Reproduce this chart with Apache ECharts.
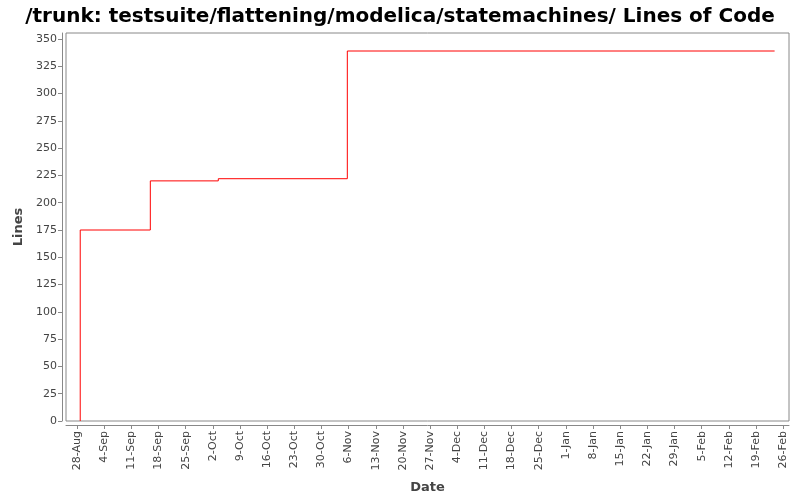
<!DOCTYPE html>
<html><head><meta charset="utf-8">
<script src="https://cdn.jsdelivr.net/npm/echarts@6/dist/echarts.min.js"></script>
<style>html,body{margin:0;padding:0;background:#fff}#c{width:800px;height:500px}</style>
</head><body><div id="c"></div>
<script>
const titleText = '/trunk: testsuite/flattening/modelica/statemachines/ Lines of Code';
const origin = '2017-08-28T00:00:00';
const stepDates = ['2017-08-28T20:00:00','2017-08-28T20:00:00','2017-09-15T21:30:00','2017-10-03T10:00:00','2017-11-05T16:00:00','2018-02-23T19:00:00'];
const lineCounts = [0,175,220,222,339,339];
const tickDays = [0,7,14,21,28,35,42,49,56,63,70,77,84,91,98,105,112,119,126,133,140,147,154,161,168,175,182];
const tickLabels = ['28-Aug','4-Sep','11-Sep','18-Sep','25-Sep','2-Oct','9-Oct','16-Oct','23-Oct','30-Oct','6-Nov','13-Nov','20-Nov','27-Nov','4-Dec','11-Dec','18-Dec','25-Dec','1-Jan','8-Jan','15-Jan','22-Jan','29-Jan','5-Feb','12-Feb','19-Feb','26-Feb'];
const yTicks = [0,25,50,75,100,125,150,175,200,225,250,275,300,325,350];

const t0 = Date.parse(origin);
const toDay = s => (Date.parse(s) - t0) / 86400000;
const data = stepDates.map((d, i) => [toDay(d), lineCounts[i]]);
const labelMap = {};
tickDays.forEach((d, i) => labelMap[d] = tickLabels[i]);

const font = 'DejaVu Sans';
const chart = echarts.init(document.getElementById('c'), null, {renderer: 'canvas'});
chart.setOption({
  animation: false,
  backgroundColor: '#fff',
  title: {text: titleText, left: 'center', top: 2,
    textStyle: {fontFamily: font, fontSize: 20, fontWeight: 'bold', color: '#000'}},
  grid: {left: 66, right: 11, top: 33, bottom: 79, show: true, borderColor: '#888', borderWidth: 1, backgroundColor: '#fff'},
  xAxis: {
    type: 'value', min: -2.835, max: 183.5, offset: 4,
    name: 'Date', nameLocation: 'middle', nameGap: 56,
    nameTextStyle: {fontFamily: font, fontSize: 13, fontWeight: 'bold', color: '#444'},
    axisLine: {show: true, onZero: false, lineStyle: {color: '#888'}},
    axisTick: {show: true, length: 4, lineStyle: {color: '#888'}, customValues: tickDays},
    axisLabel: {rotate: 90, fontFamily: font, fontSize: 11, color: '#444', margin: 6,
      customValues: tickDays, formatter: v => labelMap[Math.round(v)] || ''},
    splitLine: {show: false}
  },
  yAxis: {
    type: 'value', min: 0, max: 355.5, offset: 4,
    name: 'Lines', nameLocation: 'middle', nameGap: 36, nameRotate: 90,
    nameTextStyle: {fontFamily: font, fontSize: 13, fontWeight: 'bold', color: '#444'},
    axisLine: {show: true, onZero: false, lineStyle: {color: '#888'}},
    axisTick: {show: true, length: 4, lineStyle: {color: '#888'}, customValues: yTicks},
    axisLabel: {fontFamily: font, fontSize: 11, color: '#444', margin: 5,
      customValues: yTicks, formatter: v => String(v)},
    splitLine: {show: false}
  },
  series: [{
    type: 'line', step: 'end', data: data, showSymbol: false, symbol: 'none',
    lineStyle: {color: '#ff0000', width: 1}, itemStyle: {color: '#ff0000'}
  }]
});
</script></body></html>
